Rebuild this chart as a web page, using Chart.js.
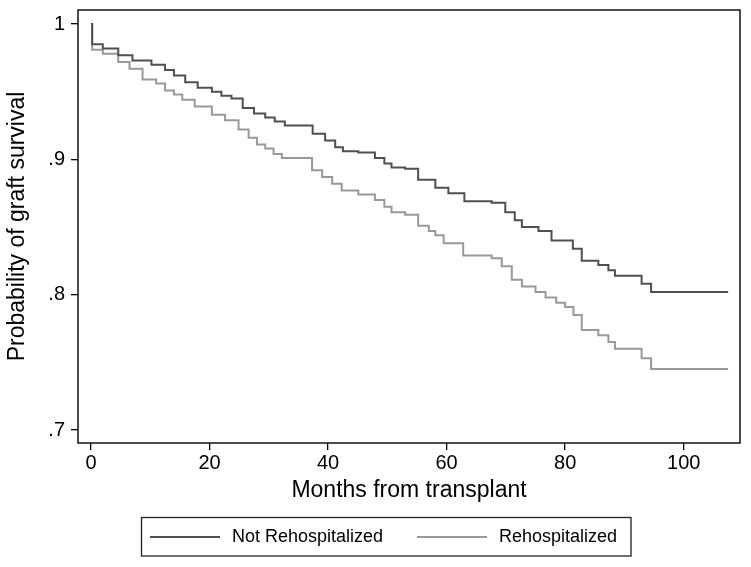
<!DOCTYPE html>
<html>
<head>
<meta charset="utf-8">
<script src="https://cdn.jsdelivr.net/npm/chart.js@4/dist/chart.umd.min.js"></script>
<style>
html,body{margin:0;padding:0;background:#fff;}
#wrap{width:751px;height:567px;position:relative;}
</style>
</head>
<body>
<div id="wrap"><canvas id="c" width="751" height="567"></canvas></div>
<script>
// ---- data (Kaplan-Meier step curves) ----
const seriesLabels = ["Not Rehospitalized", "Rehospitalized"];
const seriesColors = ["#505050", "#999999"];

const notRehospMonths = [0, 0.2, 2, 4.6, 7, 10.2, 12.5, 14, 15.9, 18, 20.4, 22, 23.7, 25.6, 27.5, 29.4, 31, 32.7, 37.4, 39.5, 41.2, 42.5, 45.1, 47.9, 49.5, 50.7, 53, 55.2, 58.1, 60.3, 63, 67.6, 69.9, 71.5, 72.7, 75.5, 77.7, 81.3, 82.8, 85.6, 87.3, 88.4, 92.9, 94.5, 107.5];
const notRehospSurv   = [1.0, 0.985, 0.982, 0.977, 0.973, 0.970, 0.966, 0.962, 0.957, 0.953, 0.950, 0.947, 0.945, 0.938, 0.934, 0.931, 0.928, 0.925, 0.919, 0.914, 0.909, 0.906, 0.905, 0.901, 0.897, 0.894, 0.893, 0.885, 0.879, 0.875, 0.869, 0.868, 0.861, 0.855, 0.850, 0.847, 0.840, 0.834, 0.825, 0.822, 0.818, 0.814, 0.808, 0.802, 0.802];

const rehospMonths = [0, 0.2, 2, 4.6, 6.5, 8.7, 11, 12.5, 14, 15.4, 17.5, 20.4, 22.6, 24.9, 26.6, 28, 29.4, 30.8, 32.2, 37.3, 39, 40.7, 42.3, 45.1, 47.9, 49.5, 50.7, 53, 55.2, 57, 58.1, 59.5, 62.8, 67.6, 69.3, 71, 72.7, 75, 76.7, 78.5, 80, 81.4, 82.8, 85.6, 87.3, 88.4, 92.9, 94.5, 107.5];
const rehospSurv   = [1.0, 0.981, 0.978, 0.972, 0.967, 0.959, 0.956, 0.951, 0.948, 0.944, 0.939, 0.933, 0.929, 0.922, 0.916, 0.911, 0.908, 0.904, 0.901, 0.892, 0.887, 0.882, 0.877, 0.874, 0.870, 0.865, 0.861, 0.859, 0.851, 0.847, 0.844, 0.838, 0.829, 0.827, 0.821, 0.811, 0.806, 0.802, 0.798, 0.794, 0.791, 0.785, 0.774, 0.770, 0.765, 0.760, 0.753, 0.745, 0.745];

const xTickValues = [0, 20, 40, 60, 80, 100];
const yTickValues = [0.7, 0.8, 0.9, 1.0];
const yTickLabels = [".7", ".8", ".9", "1"];

const xTitle = "Months from transplant";
const yTitle = "Probability of graft survival";

// ---- build ----
function pts(xs, ys){ return xs.map((x,i)=>({x:x, y:ys[i]})); }

const FONT = "'Liberation Sans', Arial, sans-serif";

const framePlugin = {
  id: 'frame',
  afterDraw(chart){
    const {ctx, chartArea:a} = chart;
    ctx.save();
    ctx.strokeStyle = '#000';
    ctx.lineWidth = 1.4;
    ctx.strokeRect(a.left, a.top, a.right - a.left, a.bottom - a.top);
    ctx.restore();
  }
};

const legendPlugin = {
  id: 'boxLegend',
  afterDraw(chart){
    const ctx = chart.ctx;
    ctx.save();
    ctx.strokeStyle = '#222';
    ctx.lineWidth = 1.3;
    ctx.strokeRect(141.5, 517.5, 489.5, 38.5);
    const items = [{lx:150, tx:232}, {lx:417, tx:499}];
    chart.data.datasets.forEach((ds, i) => {
      const it = items[i];
      ctx.strokeStyle = ds.borderColor;
      ctx.lineWidth = 2;
      ctx.beginPath();
      ctx.moveTo(it.lx, 537);
      ctx.lineTo(it.lx + 70, 537);
      ctx.stroke();
      ctx.fillStyle = '#000';
      ctx.font = "18px " + FONT;
      ctx.textBaseline = 'middle';
      ctx.textAlign = 'left';
      ctx.fillText(ds.label, it.tx, 537);
    });
    ctx.restore();
  }
};

new Chart(document.getElementById('c'), {
  type: 'line',
  data: {
    datasets: [
      { label: seriesLabels[0], data: pts(notRehospMonths, notRehospSurv), borderColor: seriesColors[0], backgroundColor: seriesColors[0], borderWidth: 2, stepped: true, pointRadius: 0, fill: false },
      { label: seriesLabels[1], data: pts(rehospMonths, rehospSurv), borderColor: seriesColors[1], backgroundColor: seriesColors[1], borderWidth: 2, stepped: true, pointRadius: 0, fill: false }
    ]
  },
  options: {
    responsive: false,
    animation: false,
    devicePixelRatio: 1,
    layout: { padding: { left: 0, top: 10, right: 11, bottom: 60 } },
    plugins: { legend: { display: false }, tooltip: { enabled: false } },
    scales: {
      x: {
        type: 'linear',
        min: -2.19, max: 109.5,
        afterFit(s){ s.height = 64; s.paddingLeft = 0; s.paddingRight = 0; },
        afterBuildTicks(s){ s.ticks = xTickValues.map(v => ({value: v})); },
        grid: { display: true, drawOnChartArea: false, drawTicks: true, tickLength: 7, color: '#000', lineWidth: 1.3 },
        border: { display: false },
        ticks: { color: '#000', font: { family: FONT, size: 20 }, padding: 1, maxRotation: 0, callback: v => String(v) },
        title: { display: true, text: xTitle, color: '#000', font: { family: FONT, size: 23 }, padding: { top: 0, bottom: 3 } }
      },
      y: {
        type: 'linear',
        min: 0.6904, max: 1.0104,
        afterFit(s){ s.width = 78; s.paddingTop = 0; s.paddingBottom = 0; },
        afterBuildTicks(s){ s.ticks = yTickValues.map(v => ({value: v})); },
        grid: { display: true, drawOnChartArea: false, drawTicks: true, tickLength: 7, color: '#000', lineWidth: 1.3 },
        border: { display: false },
        ticks: { color: '#000', font: { family: FONT, size: 20 }, padding: 6,
                 callback: (v) => { const i = yTickValues.findIndex(t => Math.abs(t - v) < 1e-6); return i >= 0 ? yTickLabels[i] : ''; } },
        title: { display: true, text: yTitle, color: '#000', font: { family: FONT, size: 23 }, padding: { top: 4, bottom: 0 } }
      }
    }
  },
  plugins: [framePlugin, legendPlugin]
});
</script>
</body>
</html>
